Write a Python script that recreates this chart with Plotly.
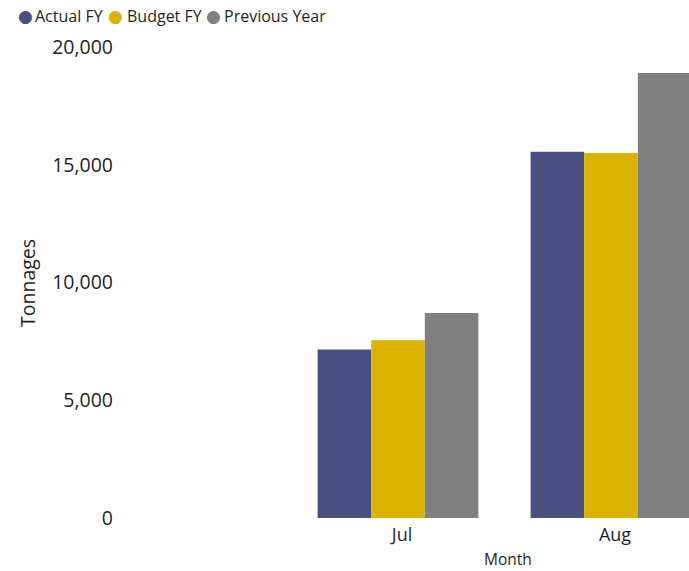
import plotly.graph_objects as go

months = ["Jul", "Aug"]
actual_fy = [7150, 15550]
budget_fy = [7550, 15500]
previous_year = [8700, 18900]
series_names = ["Actual FY", "Budget FY", "Previous Year"]
colors = ["#4A4F82", "#D9B300", "#808080"]
y_ticks = [0, 5000, 10000, 15000, 20000]
y_tick_labels = ["0", "5,000", "10,000", "15,000", "20,000"]

FONT = "Open Sans"
TXT = "#1f1f1f"

fig = go.Figure()
for name, vals, col in zip(series_names, [actual_fy, budget_fy, previous_year], colors):
    fig.add_trace(go.Bar(x=months, y=vals, name=name, marker_color=col,
                         marker_line_width=0, showlegend=False))

fig.update_layout(
    width=689, height=571,
    margin=dict(l=120, r=0, t=47, b=53),
    plot_bgcolor="white", paper_bgcolor="white",
    barmode="group", bargap=0.245, bargroupgap=0,
    font=dict(family=FONT, color=TXT),
)
fig.update_xaxes(type="category", range=[-1.305, 1.366], showgrid=False,
                 showline=False, zeroline=False,
                 tickfont=dict(size=18, family=FONT, color=TXT),
                 ticklabelstandoff=4, ticklabelshift=4)
fig.update_yaxes(range=[0, 20000], tickvals=y_ticks, ticktext=y_tick_labels,
                 showgrid=False, zeroline=False, showline=False,
                 tickfont=dict(size=19.5, family=FONT, color=TXT),
                 ticklabelstandoff=6)

# axis titles
fig.add_annotation(text="Tonnages", x=27, y=283, xref="paper", yref="paper",
                   showarrow=False, textangle=-90, xanchor="center", yanchor="middle",
                   font=dict(size=19.5, family=FONT, color=TXT))
fig.add_annotation(text="Month", x=508, y=559, xref="paper", yref="paper",
                   showarrow=False, xanchor="center", yanchor="middle",
                   font=dict(size=15.5, family=FONT, color=TXT))

# legend via annotations
legend_pos = [(25, 33), (115, 125), (213, 222)]
for (cx, tx), name, col in zip(legend_pos, series_names, colors):
    fig.add_annotation(text="●", x=cx, y=16, xref="paper", yref="paper",
                       showarrow=False, xanchor="center", yanchor="middle",
                       font=dict(size=17, family="DejaVu Sans", color=col))
    fig.add_annotation(text=name, x=tx, y=16, xref="paper", yref="paper",
                       showarrow=False, xanchor="left", yanchor="middle",
                       font=dict(size=16, family=FONT, color=TXT))

# convert pixel-based annotation positions to paper coords
pw = 689 - 120 - 0
ph = 571 - 47 - 53
for a in fig.layout.annotations:
    a.x = (a.x - 120) / pw
    a.y = (571 - 53 - a.y) / ph

fig.write_html("out.html", config={"displayModeBar": False},
               post_script="document.body.style.margin='0';document.body.style.overflow='hidden';")
